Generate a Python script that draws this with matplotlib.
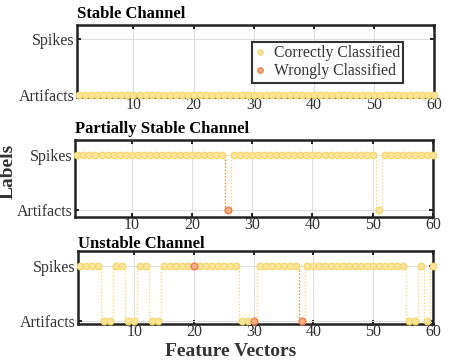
import numpy as np
import matplotlib
matplotlib.use("Agg")
import matplotlib.pyplot as plt

# ---------------- data ----------------
x = list(range(1, 61))
titles = ["Stable Channel", "Partially Stable Channel", "Unstable Channel"]

# 1 = Spikes, 0 = Artifacts
stable = [0] * 60
partial = [1] * 60
partial[26 - 1] = 0
partial[51 - 1] = 0
unstable_runs = [(1, 4, 1), (5, 6, 0), (7, 8, 1), (9, 10, 0), (11, 12, 1),
                 (13, 14, 0), (15, 27, 1), (28, 30, 0), (31, 37, 1), (38, 38, 0),
                 (39, 55, 1), (56, 57, 0), (58, 58, 1), (59, 59, 0), (60, 60, 1)]
unstable = [0] * 60
for a, b, v in unstable_runs:
    for i in range(a, b + 1):
        unstable[i - 1] = v
series = [stable, partial, unstable]
wrong = [[], [26], [20, 30, 38]]

ytick_labels = ["Artifacts", "Spikes"]
xticks = [10, 20, 30, 40, 50, 60]
ylims = [(-0.04, 1.25), (-0.13, 1.27), (-0.06, 1.28)]

# ---------------- style ----------------
plt.rcParams['font.family'] = ['Liberation Serif', 'DejaVu Serif']
YEL_EDGE = '#F5D567'
YEL_FACE = '#FBE59A'
ORA_EDGE = '#EE7F4A'
ORA_FACE = '#F6AE85'
TXT = '#333333'

W, H = 449, 361
fig = plt.figure(figsize=(W / 100, H / 100), dpi=100)

boxes = [(77, 25, 434, 97), (75, 140, 433, 217), (78, 251, 433, 324)]
title_pads = [5, 5, 2]
axes = []
for (l, t, r, b) in boxes:
    ax = fig.add_axes([l / W, 1 - b / H, (r - l) / W, (b - t) / H])
    axes.append(ax)

xa = np.array(x)
for k, ax in enumerate(axes):
    y = np.array(series[k])
    ax.step(xa, y, where='mid', color=YEL_EDGE, lw=0.9, ls=':', zorder=2)
    # orange dotted transitions into wrongly classified points
    for w in wrong[k]:
        i = w - 1
        if i > 0 and y[i] != y[i - 1]:
            ax.vlines(xa[i] - 0.5, min(y[i], y[i - 1]), max(y[i], y[i - 1]),
                      color=ORA_EDGE, lw=0.9, ls=':', zorder=3)
    ok = np.array([v not in wrong[k] for v in x])
    ax.plot(xa[ok], y[ok], ls='none', marker='o', ms=4.8, mfc=YEL_FACE,
            mec=YEL_EDGE, mew=0.8, zorder=4, label='Correctly Classified', clip_on=False)
    wr = ~ok
    ax.plot(xa[wr], y[wr], ls='none', marker='o', ms=4.8, mfc=ORA_FACE,
            mec=ORA_EDGE, mew=1.0, zorder=5, label='Wrongly Classified', clip_on=False)
    ax.set_xlim(0.6, 60)
    ax.set_ylim(*ylims[k])
    ax.set_xticks(xticks)
    ax.set_yticks([0, 1])
    ax.set_yticklabels(ytick_labels)
    ax.tick_params(direction='in', top=True, right=True, length=3, width=1.2,
                   labelsize=11.5, colors='black', labelcolor=TXT, pad=2)
    ax.tick_params(axis='x', pad=0)
    ax.grid(True, color='#DDDDDD', lw=0.7)
    ax.set_axisbelow(True)
    for s in ax.spines.values():
        s.set_linewidth(1.8)
        s.set_color('#222222')
    ax.set_title(titles[k], loc='left', fontsize=12, fontweight='bold',
                 pad=title_pads[k], x=0.0)

leg = axes[0].legend(loc='upper left',
                     bbox_to_anchor=((252 - 77) / (434 - 77), 1 - (42 - 25) / 72),
                     fontsize=11.3, frameon=True, fancybox=False, handlelength=0.6,
                     handletextpad=0.6, borderpad=0.2, labelspacing=0.15,
                     markerscale=0.8, borderaxespad=0)
leg.get_frame().set_edgecolor('black')
leg.get_frame().set_linewidth(1.5)
for t in leg.get_texts():
    t.set_color(TXT)

fig.text(8 / W, 1 - 171 / H, 'Labels', rotation=90, fontsize=14, fontweight='bold',
         ha='center', va='center', color=TXT)
fig.text(231 / W, 1 - 352 / H, 'Feature Vectors', fontsize=14, fontweight='bold',
         ha='center', va='center', color=TXT)

fig.savefig('out.png', dpi=100)
